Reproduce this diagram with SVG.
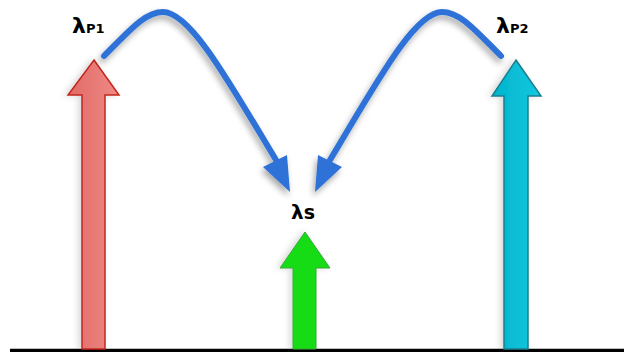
<svg xmlns="http://www.w3.org/2000/svg" width="624" height="352" viewBox="0 0 624 352">
  <defs>
    <filter id="sh" x="-30%" y="-30%" width="160%" height="160%">
      <feDropShadow dx="-2" dy="4" stdDeviation="3" flood-color="#000" flood-opacity="0.35"/>
    </filter>
    <filter id="sh2" x="-30%" y="-10%" width="160%" height="120%">
      <feDropShadow dx="-3" dy="0" stdDeviation="3" flood-color="#000" flood-opacity="0.15"/>
    </filter>
    <linearGradient id="gr" x1="0" x2="1" y1="0" y2="0">
      <stop offset="0" stop-color="#e06a66"/>
      <stop offset="1" stop-color="#f08a86"/>
    </linearGradient>
    <linearGradient id="gc" x1="0" x2="1" y1="0" y2="0">
      <stop offset="0" stop-color="#00b4cc"/>
      <stop offset="1" stop-color="#14c8e0"/>
    </linearGradient>
  </defs>
  <style>
    .lbl { font-family: "DejaVu Sans", "Liberation Sans", sans-serif; font-weight: bold; fill: #000; }
    .curve { fill: none; stroke: #2f72d8; stroke-width: 6; stroke-linecap: round; }
    .head { fill: #2f72d8; }
  </style>
  <rect width="624" height="352" fill="#fff"/>

  <line x1="10" y1="350.5" x2="624" y2="350.5" stroke="#000" stroke-width="3.5"/>

  <g id="pump1" filter="url(#sh2)">
    <polygon points="94,60 119,95 105,95 105,349 82,349 82,95 68,95" fill="url(#gr)" stroke="#c2271c" stroke-width="1.5"/>
  </g>
  <g id="pump2" filter="url(#sh2)">
    <polygon points="516,60 541,96 528,96 528,349 504,349 504,96 492,96" fill="url(#gc)" stroke="#1a7f8e" stroke-width="1.5"/>
  </g>
  <g id="signal" filter="url(#sh2)">
    <polygon points="305,232 330,268 316,268 316,349 293,349 293,268 280,268" fill="#16dc16" stroke="#3aa83a" stroke-width="1"/>
  </g>

  <g id="label-p1">
    <text class="lbl" x="72" y="33" font-size="22">λ<tspan font-size="13">P1</tspan></text>
  </g>
  <g id="label-p2">
    <text class="lbl" x="496" y="33" font-size="22">λ<tspan font-size="13">P2</tspan></text>
  </g>
  <g id="label-s">
    <text class="lbl" x="291" y="219" font-size="20">λ<tspan font-size="19">s</tspan></text>
  </g>

  <g id="connectors" filter="url(#sh)">
    <path class="curve" d="M104,56 C130,30 145,12 163,12 C190,12 228,80 276,160"/>
    <polygon class="head" points="263,167 290,192 287,155"/>
    <path class="curve" d="M501,56 C475,30 460,12 442,12 C415,12 378,80 330,160"/>
    <polygon class="head" points="318,155 315,192 342,167"/>
  </g>
</svg>
